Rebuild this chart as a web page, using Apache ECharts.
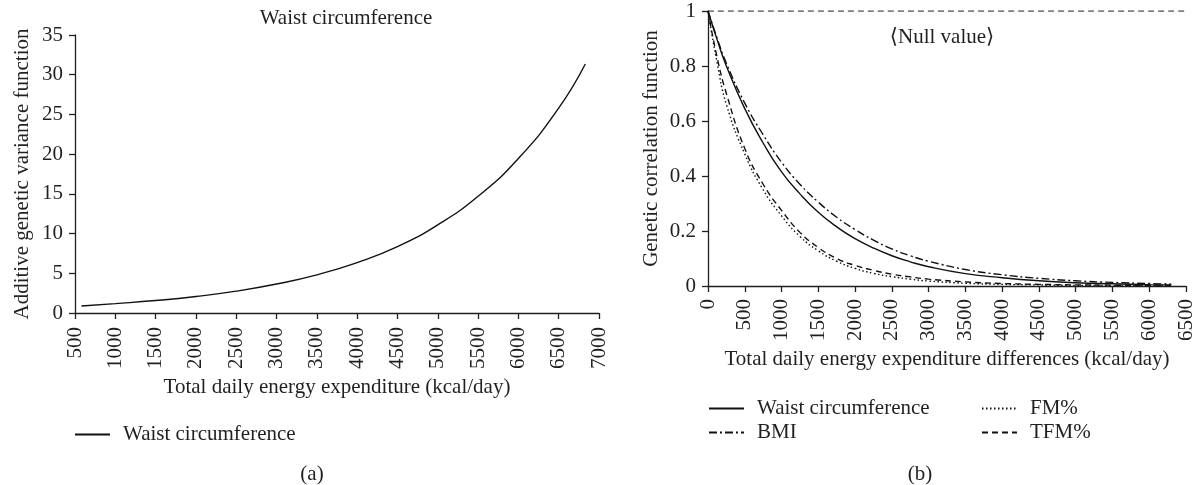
<!DOCTYPE html>
<html><head><meta charset="utf-8">
<script src="https://cdn.jsdelivr.net/npm/echarts@6/dist/echarts.min.js"></script>
<style>html,body{margin:0;padding:0;background:#fff}#c{width:1197px;height:485px}</style>
</head><body><div id="c"></div>
<script>
// ---- data (a): additive genetic variance function ----
const tdee = [580, 1000, 1500, 2000, 2500, 3000, 3500, 4000, 4500, 5000, 5500, 6000, 6500, 6830];
const varWaist = [0.88, 1.18, 1.57, 2.08, 2.75, 3.65, 4.8, 6.35, 8.35, 11.1, 14.7, 19.45, 25.8, 31.35];
// ---- data (b): genetic correlation function ----
const diffs = [0, 125, 250, 500, 750, 1000, 1250, 1500, 1750, 2000, 2250, 2500, 2750, 3000, 3500, 4000, 4500, 5000, 5500, 6000, 6300];
const corWaist = [1, 0.895, 0.80, 0.645, 0.52, 0.415, 0.335, 0.268, 0.215, 0.172, 0.138, 0.11, 0.088, 0.07, 0.045, 0.03, 0.019, 0.012, 0.008, 0.005, 0.004];
const corBMI = [1, 0.9, 0.81, 0.665, 0.55, 0.45, 0.37, 0.305, 0.25, 0.205, 0.167, 0.135, 0.11, 0.09, 0.06, 0.041, 0.028, 0.019, 0.013, 0.009, 0.007];
const corFM = [1, 0.81, 0.66, 0.48, 0.35, 0.255, 0.18, 0.128, 0.09, 0.064, 0.046, 0.034, 0.025, 0.018, 0.01, 0.006, 0.004, 0.002, 0.0015, 0.001, 0.001];
const corTFM = [1, 0.83, 0.70, 0.50, 0.37, 0.275, 0.195, 0.14, 0.10, 0.075, 0.057, 0.043, 0.033, 0.025, 0.015, 0.009, 0.006, 0.004, 0.003, 0.002, 0.002];
const nullX = [0, 6500];
const nullY = [1, 1];
// ---- labels ----
const titleA = 'Waist circumference';
const xNameA = 'Total daily energy expenditure (kcal/day)';
const yNameA = 'Additive genetic variance function';
const xNameB = 'Total daily energy expenditure differences (kcal/day)';
const yNameB = 'Genetic correlation function';
const nullLabel = '\u27E8Null value\u27E9';

const FONT = '"Liberation Serif", "DejaVu Serif", serif';
const FS = 21;
const TXT = '#231f20';
const pairs = (xs, ys) => xs.map((x, i) => [x, ys[i]]);
const txt = {fontFamily: FONT, fontSize: FS, color: TXT};
const axisLine = {show: true, onZero: false, lineStyle: {color: TXT, width: 1.3}};
const axisTick = {show: true, length: 6, lineStyle: {color: TXT, width: 1.3}};

function xAx(grid, min, max, name, margin, gap) {
  return {type: 'value', gridIndex: grid, min: min, max: max, interval: 500,
    axisLine: axisLine, axisTick: axisTick, splitLine: {show: false},
    axisLabel: Object.assign({rotate: 90, margin: margin, showMinLabel: true, showMaxLabel: true,
      formatter: v => String(v)}, txt),
    name: name, nameLocation: 'middle', nameGap: gap, nameTextStyle: txt};
}
function yAx(grid, max, interval, name, gap, margin) {
  return {type: 'value', gridIndex: grid, min: 0, max: max, interval: interval,
    axisLine: axisLine, axisTick: axisTick, splitLine: {show: false},
    axisLabel: Object.assign({margin: margin, showMinLabel: true, showMaxLabel: true,
      formatter: v => String(+v.toFixed(2))}, txt),
    name: name, nameLocation: 'middle', nameGap: gap, nameTextStyle: txt};
}
function line(name, xi, yi, xs, ys, type, color) {
  return {name: name, type: 'line', xAxisIndex: xi, yAxisIndex: yi, data: pairs(xs, ys),
    symbol: 'none', smooth: true, silent: true,
    lineStyle: {color: color || '#111', width: 1.4, type: type || 'solid'},
    itemStyle: {color: color || '#111'}};
}
const legendBase = {itemWidth: 35, itemHeight: 14, selectedMode: false,
  itemStyle: {opacity: 0},
  textStyle: Object.assign({padding: [0, 0, 0, 8]}, txt)};

const option = {
  animation: false,
  backgroundColor: '#fff',
  grid: [
    {left: 75, right: 598, top: 35, bottom: 172, outerBoundsMode: 'none'},
    {left: 708, right: 11, top: 11, bottom: 199, outerBoundsMode: 'none'}
  ],
  xAxis: [xAx(0, 500, 7000, xNameA, 14, 64), xAx(1, 0, 6500, xNameB, 13, 62)],
  yAxis: [yAx(0, 35, 5, yNameA, 42, 12), yAx(1, 1, 0.2, yNameB, 46, 12)],
  legend: [
    Object.assign({data: ['Waist circumference'], left: 69, top: 419}, legendBase),
    Object.assign({data: ['Waist circumference', 'BMI'], orient: 'vertical', left: 703, top: 393, itemGap: 3}, legendBase),
    Object.assign({data: ['FM%', 'TFM%'], orient: 'vertical', left: 976, top: 393, itemGap: 3}, legendBase)
  ],
  series: [
    line('Waist circumference', 0, 0, tdee, varWaist),
    line('Null value', 1, 1, nullX, nullY, [6, 4], '#555'),
    line('Waist circumference', 1, 1, diffs, corWaist),
    line('BMI', 1, 1, diffs, corBMI, [8, 3, 2, 3]),
    line('FM%', 1, 1, diffs, corFM, [1.5, 2.5]),
    line('TFM%', 1, 1, diffs, corTFM, [6, 4])
  ],
  graphic: [
    {type: 'text', x: 346, y: 18, style: {text: titleA, font: FS + 'px ' + FONT, fill: TXT, textAlign: 'center', textVerticalAlign: 'middle'}},
    {type: 'text', x: 942, y: 37, style: {text: nullLabel, font: FS + 'px ' + FONT, fill: TXT, textAlign: 'center', textVerticalAlign: 'middle'}},
    {type: 'text', x: 312, y: 474, style: {text: '(a)', font: FS + 'px ' + FONT, fill: TXT, textAlign: 'center', textVerticalAlign: 'middle'}},
    {type: 'text', x: 920, y: 474, style: {text: '(b)', font: FS + 'px ' + FONT, fill: TXT, textAlign: 'center', textVerticalAlign: 'middle'}}
  ]
};
const chart = echarts.init(document.getElementById('c'), null, {renderer: 'canvas'});
chart.setOption(option);
</script>
</body></html>
